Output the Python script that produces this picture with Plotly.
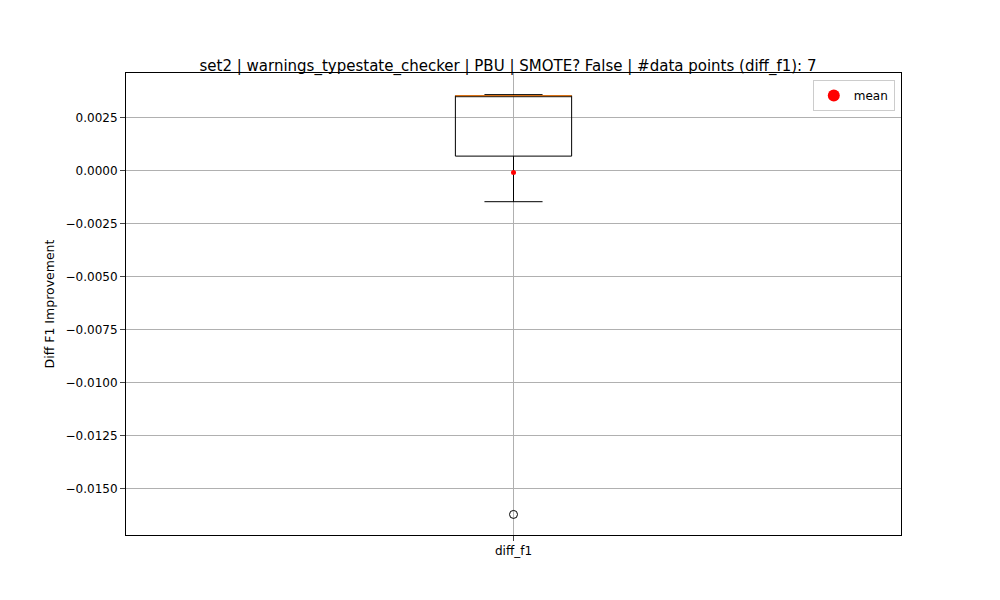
import numpy as np
import plotly.graph_objects as go

values = [-0.0162, -0.00145, 0.00285, 0.00355, 0.00355, 0.00355, 0.0036]
category = "diff_f1"
title = "set2 | warnings_typestate_checker | PBU | SMOTE? False | #data points (diff_f1): 7"

v = np.array(values)
q1, med, q3 = np.percentile(v, [25, 50, 75])
iqr = q3 - q1
inside = v[(v >= q1 - 1.5 * iqr) & (v <= q3 + 1.5 * iqr)]
lo, hi = inside.min(), inside.max()
outliers = v[(v < lo) | (v > hi)]
mean = v.mean()

fig = go.Figure()
fig.add_trace(go.Box(x=[1], q1=[q1], median=[med], q3=[q3], lowerfence=[lo], upperfence=[hi],
                     width=0.15, whiskerwidth=0.5, fillcolor="rgba(0,0,0,0)",
                     line=dict(color="black", width=1), showlegend=False, hoverinfo="skip"))
fig.add_trace(go.Scatter(x=[0.925, 1.075], y=[med, med], mode="lines",
                         line=dict(color="#ff7f0e", width=1), showlegend=False))
fig.add_trace(go.Scatter(x=[1] * len(outliers), y=outliers, mode="markers",
                         marker=dict(symbol="circle-open", size=8, color="black", line=dict(width=1)),
                         showlegend=False))
fig.add_trace(go.Scatter(x=[1], y=[mean], mode="markers", name="mean",
                         marker=dict(color="red", size=5)))

fig.update_layout(
    width=1000, height=600, plot_bgcolor="white", paper_bgcolor="white",
    margin=dict(l=118, r=107, t=65, b=73),
    font=dict(family="DejaVu Sans", size=12, color="black"),
    title=dict(text=title, x=0.5, xanchor="center", y=0.903, yanchor="middle", font=dict(size=15)),
    legend=dict(x=0.992, y=0.985, xanchor="right", yanchor="top", bordercolor="#cccccc",
                borderwidth=1, itemsizing="constant", font=dict(size=12)),
    xaxis=dict(range=[0.5, 1.5], tickvals=[1], ticktext=[category], showgrid=True,
               gridcolor="#b0b0b0", mirror=True, showline=True, linecolor="black",
               ticks="outside", zeroline=False),
    yaxis=dict(range=[-0.01717, 0.00462], tickvals=[0.0025 * i for i in range(-6, 2)],
               tickformat=".4f", showgrid=True, gridcolor="#b0b0b0", mirror=True,
               showline=True, linecolor="black", ticks="outside", zeroline=False,
               title=dict(text="Diff F1 Improvement", standoff=8, font=dict(size=12.5))),
)
fig.write_html("out.html")
